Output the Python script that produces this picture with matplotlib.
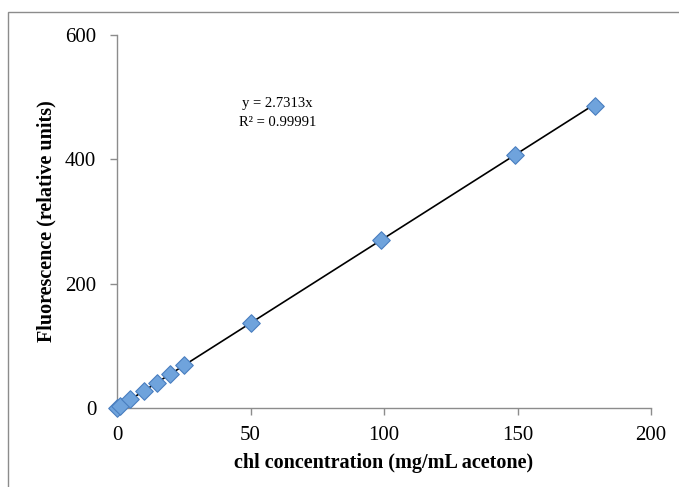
import matplotlib
matplotlib.use("Agg")
import matplotlib.pyplot as plt
import matplotlib.patches as mpatches
import numpy as np

conc = [0, 1, 5, 10, 15, 20, 25, 50, 99, 149, 179]
fluor = [0, 3, 14, 27, 41, 55, 69, 136, 271, 407, 486]
slope = 2.7313
x_ticks = [0, 50, 100, 150, 200]
y_ticks = [0, 200, 400, 600]

plt.rcParams['font.family'] = ['Liberation Serif', 'DejaVu Serif']

fig = plt.figure(figsize=(6.79, 4.87), dpi=100)
ax = fig.add_axes([0.1723, 0.1622, 0.9588 - 0.1723, 0.9281 - 0.1622])

fit_x = np.array([0, max(conc)])
ax.plot(fit_x, slope * fit_x, color='black', lw=1.2, zorder=2)
ax.scatter(conc, fluor, marker='D', s=80, color='#6fa3dc', edgecolors='#4a7fc0',
           linewidths=0.8, zorder=3, clip_on=False)

ax.set_xlim(0, 200)
ax.set_ylim(0, 600)
ax.set_xticks(x_ticks)
ax.set_yticks(y_ticks)
for s in ['top', 'right']:
    ax.spines[s].set_visible(False)
for s in ['left', 'bottom']:
    ax.spines[s].set_color('#8c8c8c')
    ax.spines[s].set_linewidth(1)
ax.tick_params(axis='both', color='#8c8c8c', length=5, width=1, labelsize=15, direction='out')
ax.tick_params(axis='x', pad=8)
ax.tick_params(axis='y', pad=10)

ax.set_xlabel('chl concentration (mg/mL acetone)', fontsize=14.5, fontweight='bold', labelpad=6)
ax.set_ylabel('Fluorescence (relative units)', fontsize=14.5, fontweight='bold', labelpad=6)

ax.text(60, 490, 'y = 2.7313x', ha='center', va='center', fontsize=10.5)
ax.text(60, 460, 'R² = 0.99991', ha='center', va='center', fontsize=10.5)

frame = mpatches.Rectangle((8 / 679, -0.05), 1.2, 1 - 12 / 487 + 0.05, transform=fig.transFigure,
                           fill=False, edgecolor='#8c8c8c', lw=1, clip_on=False)
fig.patches.append(frame)

fig.savefig('out.png', dpi=100)
